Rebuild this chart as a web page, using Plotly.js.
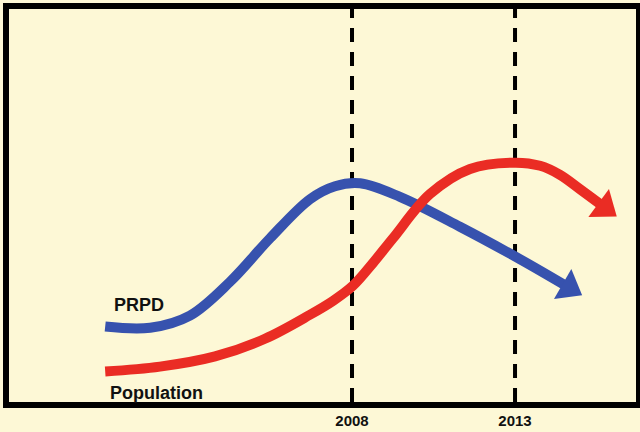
<!DOCTYPE html>
<html>
<head>
<meta charset="utf-8">
<script src="https://cdn.plot.ly/plotly-3.0.1.min.js"></script>
<style>
  html, body { margin: 0; padding: 0; background: #FDF8D6; }
  #chart { width: 640px; height: 432px; }
</style>
</head>
<body>
<div id="chart"></div>
<script>
// ---- data (years vs. relative level) ----
const prpdYears = [2000.43, 2001.81, 2003.03, 2004.26, 2005.49, 2006.71, 2007.48, 2008.25, 2009.47, 2011.31, 2013.16, 2014.66];
const prpdValues = [19.2, 18.9, 22.0, 30.6, 41.7, 51.6, 54.9, 55.65, 52.2, 44.6, 36.3, 29.1];

const popYears = [2000.43, 2002.11, 2003.80, 2005.33, 2006.71, 2007.42, 2008.03, 2008.65, 2009.26, 2010.39, 2011.62, 2013.00, 2013.77, 2014.38, 2015.00, 2015.75];
const popValues = [7.75, 9.0, 11.6, 16.1, 22.2, 25.75, 29.6, 35.45, 41.7, 52.9, 59.3, 60.9, 60.1, 57.8, 54.1, 49.5];

const markerYears = [2008, 2013];
const tickLabels = ['2008', '2013'];
const seriesNames = ['PRPD', 'Population'];

// ---- styling ----
const BG = '#FDF8D6';
const BLUE = '#3752AE';
const RED = '#EA2C24';

function arrowSizes(arr, headSize) {
  return arr.map((_, i) => (i === arr.length - 1 ? headSize : 0));
}

function curve(xs, ys, name, color) {
  return {
    x: xs, y: ys, name: name,
    type: 'scatter', mode: 'lines+markers',
    line: { color: color, width: 10, shape: 'spline', smoothing: 1 },
    marker: { symbol: 'triangle-up', angleref: 'previous', size: arrowSizes(xs, 30),
              color: color, opacity: 1, line: { width: 0, color: color } },
    opacity: 1,
    hoverinfo: 'skip'
  };
}

const traces = [
  curve(prpdYears, prpdValues, seriesNames[0], BLUE),
  curve(popYears, popValues, seriesNames[1], RED)
];

const shapes = markerYears.map(yr => ({
  type: 'line', xref: 'x', yref: 'paper', x0: yr, x1: yr, y0: 0, y1: 1,
  line: { color: '#000000', width: 4, dash: '14px,10px' },
  layer: 'below'
}));

const labelFont = { family: 'Liberation Sans, Arial, sans-serif', size: 18, color: '#111111', weight: 'bold' };

const layout = {
  width: 640, height: 432,
  margin: { l: 9, r: 4, t: 9, b: 30, pad: 0 },
  paper_bgcolor: BG, plot_bgcolor: BG,
  showlegend: false,
  xaxis: {
    range: [1997.48, 2016.71],
    showgrid: false, zeroline: false,
    showline: true, mirror: true, linewidth: 6, linecolor: '#000000',
    ticks: '', tickvals: markerYears, ticktext: tickLabels,
    tickfont: { family: 'Liberation Sans, Arial, sans-serif', size: 15, color: '#111111', weight: 'bold' },
    fixedrange: true
  },
  yaxis: {
    range: [0, 100],
    showgrid: false, zeroline: false, showticklabels: false, ticks: '',
    showline: true, mirror: true, linewidth: 6, linecolor: '#000000',
    fixedrange: true
  },
  shapes: shapes,
  annotations: [
    { xref: 'paper', yref: 'paper', x: (138.5 - 9) / 627, y: (402.5 - 305.5) / 393.5,
      text: seriesNames[0], showarrow: false, font: labelFont, xanchor: 'center', yanchor: 'middle' },
    { xref: 'paper', yref: 'paper', x: (156.5 - 9) / 627, y: (402.5 - 393) / 393.5,
      text: seriesNames[1], showarrow: false, font: labelFont, xanchor: 'center', yanchor: 'middle' }
  ]
};

Plotly.newPlot('chart', traces, layout, { displayModeBar: false, staticPlot: true });
</script>
</body>
</html>
